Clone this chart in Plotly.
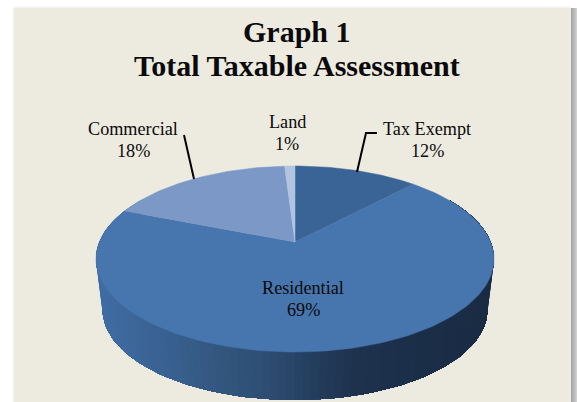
import math
import plotly.graph_objects as go

# Assessment shares, clockwise from twelve o'clock
categories = ["Tax Exempt", "Residential", "Commercial", "Land"]
shares = [12, 69, 18, 1]
slice_colors = ["#3b6496", "#4775ad", "#7b98c6", "#b1c4e0"]
title_lines = ["Graph 1", "Total Taxable Assessment"]

WIDTH, HEIGHT = 577, 402
PANEL = "#edeae0"
SERIF = "Liberation Serif"

# Tilted-disc projection: the far edge of the pie shrinks towards the viewer's horizon
APEX_X, APEX_Y = 295.0, 242.0
RX, RY, TILT = 195.6, 89.9, 0.183
BASE_SCALE, BASE_DROP = 0.967, 51.6


def rim(deg, scale=1.0, drop=0.0):
    t = math.radians(deg)
    w = 1 + TILT * math.cos(t)
    return (APEX_X + scale * RX * math.sin(t) / w,
            APEX_Y - scale * RY * math.cos(t) / w + drop)


def side_color(x):
    # Horizontal shading of the pie wall, lighter on the left
    stops = [(100, (63, 108, 163)), (150, (58, 99, 148)), (205, (52, 88, 130)),
             (260, (46, 78, 115)), (310, (36, 61, 93)), (350, (30, 50, 78)),
             (420, (27, 46, 72)), (490, (26, 44, 68))]
    if x <= stops[0][0]:
        c = stops[0][1]
    elif x >= stops[-1][0]:
        c = stops[-1][1]
    else:
        for (x0, c0), (x1, c1) in zip(stops, stops[1:]):
            if x0 <= x <= x1:
                f = (x - x0) / (x1 - x0)
                c = tuple(a + (b - a) * f for a, b in zip(c0, c1))
                break
    return "rgb(%d,%d,%d)" % tuple(round(v) for v in c)


fig = go.Figure()

# Pie wall: each band runs from its own angle round to the right-hand end, so the
# next band painted over it leaves no seam between the two
STEP = 2
WALL_END = 60
for deg in range(300, WALL_END, -STEP):
    angles = list(range(deg, WALL_END - 1, -STEP))
    upper = [rim(a) for a in angles]
    lower = [rim(a, BASE_SCALE, BASE_DROP) for a in reversed(angles)]
    poly = upper + lower + upper[:1]
    col = side_color(rim(deg)[0])
    fig.add_trace(go.Scatter(
        x=[p[0] for p in poly], y=[p[1] for p in poly],
        mode="lines", fill="toself", fillcolor=col,
        line=dict(color=col, width=0), hoverinfo="skip", showlegend=False))

# Top face of each slice
total = sum(shares)
start = 0.0
for name, value, color in zip(categories, shares, slice_colors):
    sweep = value / total * 360
    n = max(2, int(sweep / 1.5))
    pts = [rim(start + sweep * i / n) for i in range(n + 1)]
    xs = [APEX_X] + [p[0] for p in pts] + [APEX_X]
    ys = [APEX_Y] + [p[1] for p in pts] + [APEX_Y]
    fig.add_trace(go.Scatter(
        x=xs, y=ys, mode="lines", fill="toself", fillcolor=color,
        line=dict(color=color, width=0.5), name=name,
        text=f"{name}: {value}%", hoverinfo="text", showlegend=False))
    start += sweep

# Leader lines for the outside labels
for lx, ly in [([184, 194], [135, 179]), ([377, 366, 357], [133, 133, 172])]:
    fig.add_trace(go.Scatter(x=lx, y=ly, mode="lines", hoverinfo="skip", showlegend=False,
                             line=dict(color="black", width=2)))

annotations = []


def put(text, x, y, size, bold=False):
    annotations.append(dict(
        x=x, y=y, xref="x", yref="y", xanchor="center", yanchor="middle", showarrow=False,
        text=f"<b>{text}</b>" if bold else text,
        font=dict(family=SERIF, size=size, color="#0a0a0a")))


put(title_lines[0], 297, 31.5, 30, True)
put(title_lines[1], 297, 65.5, 30, True)

label_spots = {"Tax Exempt": (427, 129), "Residential": (303, 288),
               "Commercial": (133, 129), "Land": (287, 122)}
for name, value in zip(categories, shares):
    lx, ly = label_spots[name]
    put(name, lx, ly, 18.2)
    put(f"{value}%", lx, ly + 22, 18.2)

# Panel with its soft drop shadow
shapes = []
for i, col in enumerate(["#a6a6a6", "#adadad", "#b5b5b5", "#bdbdbd", "#c6c6c6", "#d0d0d0"]):
    shapes.append(dict(type="rect", xref="x", yref="y", layer="below", line_width=0,
                       x0=571 + i, x1=572 + i, y0=8, y1=402, fillcolor=col))
for i, col in enumerate(["#fafafa", "#f3f3f1"]):
    shapes.append(dict(type="rect", xref="x", yref="y", layer="below", line_width=0,
                       x0=12 + i, x1=13 + i, y0=8, y1=402, fillcolor=col))
    shapes.append(dict(type="rect", xref="x", yref="y", layer="below", line_width=0,
                       x0=14, x1=571, y0=6 + i, y1=7 + i, fillcolor=col))
shapes.append(dict(type="rect", xref="x", yref="y", layer="below", line_width=0,
                   x0=14, x1=571, y0=8, y1=402, fillcolor=PANEL))

fig.update_layout(
    width=WIDTH, height=HEIGHT, margin=dict(l=0, r=0, t=0, b=0),
    paper_bgcolor="white", plot_bgcolor="white", showlegend=False,
    xaxis=dict(range=[0, WIDTH], visible=False, fixedrange=True),
    yaxis=dict(range=[HEIGHT, 0], visible=False, fixedrange=True),
    shapes=shapes, annotations=annotations,
)

fig.write_html("out.html", config={"displayModeBar": False})
